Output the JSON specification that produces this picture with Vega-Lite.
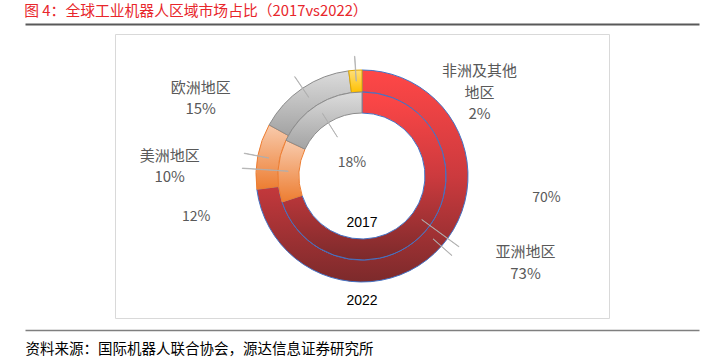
{
  "$schema": "https://vega.github.io/schema/vega-lite/v6.json",
  "width": 494,
  "height": 284,
  "autosize": "none",
  "padding": {"left": 115, "top": 34, "right": 110, "bottom": 46},
  "background": "white",
  "title": {
    "text": "图 4：全球工业机器人区域市场占比（2017vs2022）",
    "anchor": "start",
    "frame": "bounds",
    "font": "Noto Sans CJK SC",
    "fontSize": 14.8,
    "fontWeight": "normal",
    "color": "#E8262B",
    "baseline": "bottom",
    "offset": 2,
    "dx": 2,
    "dy": 12
  },
  "datasets": {
    "share": [
      {"year": "2022", "region": "亚洲地区", "pct": 73, "order": 1},
      {"year": "2022", "region": "美洲地区", "pct": 10, "order": 2},
      {"year": "2022", "region": "欧洲地区", "pct": 15, "order": 3},
      {"year": "2022", "region": "非洲及其他地区", "pct": 2, "order": 4},
      {"year": "2017", "region": "亚洲地区", "pct": 70, "order": 1},
      {"year": "2017", "region": "美洲地区", "pct": 12, "order": 2},
      {"year": "2017", "region": "欧洲地区", "pct": 18, "order": 3},
      {"year": "2017", "region": "非洲及其他地区", "pct": 0, "order": 4}
    ]
  },
  "data": {"name": "share"},
  "transform": [
    {"stack": "pct", "groupby": ["year"], "sort": [{"field": "order", "order": "ascending"}], "as": ["p0", "p1"]},
    {"calculate": "(datum.p0+datum.p1)/2", "as": "pmid"},
    {"calculate": "(datum.p0+datum.p1)/2+0.06", "as": "pmid2"},
    {"calculate": "datum.year==='2022' ? replace(datum.region,'其他','其他\\n') + '\\n' + datum.pct + '%' : datum.pct + '%'", "as": "label"}
  ],
  "layer": [
    {
      "mark": {"type": "point", "opacity": 0},
      "encoding": {
        "x": {"field": "pct", "type": "quantitative", "scale": {"domain": [0, 100], "range": [-90, 584]},
          "axis": {"orient": "top", "offset": 10, "domainColor": "#595959", "domainWidth": 2, "ticks": false, "labels": false, "grid": false, "title": null}}
      }
    },
    {
      "mark": {"type": "point", "opacity": 0},
      "encoding": {
        "x": {"field": "pct", "type": "quantitative", "scale": {"domain": [0, 100], "range": [-90, 584]},
          "title": "资料来源：国际机器人联合协会，源达信息证券研究所",
          "axis": {"orient": "bottom", "offset": 12, "domainColor": "#7F7F7F", "domainWidth": 1.5, "ticks": false, "labels": false, "grid": false,
            "titleAnchor": "start", "titleAlign": "left", "titleBaseline": "top", "titlePadding": 12,
            "titleFont": "Noto Sans CJK SC", "titleFontSize": 14.5, "titleFontWeight": "normal", "titleColor": "#000000"}}
      }
    },
    {
      "transform": [{"filter": "datum.year==='2022' && datum.pct>0"}],
      "mark": {"type": "arc", "radius": 106, "radius2": 84, "strokeWidth": 1},
      "encoding": {
        "theta": {"field": "p0", "type": "quantitative", "scale": {"domain": [0, 100]}},
        "theta2": {"field": "p1"},
        "fill": {
          "condition": [
            {"test": "datum.region==='亚洲地区'", "value": {"gradient": "linear", "x1": 0, "y1": 0, "x2": 0, "y2": 1, "stops": [{"offset": 0, "color": "#FF4747"}, {"offset": 0.5, "color": "#CC3A3E"}, {"offset": 1, "color": "#7C2A2B"}]}},
            {"test": "datum.region==='美洲地区'", "value": {"gradient": "linear", "x1": 0, "y1": 0, "x2": 0, "y2": 1, "stops": [{"offset": 0, "color": "#F8CBAD"}, {"offset": 1, "color": "#ED7D31"}]}},
            {"test": "datum.region==='欧洲地区'", "value": {"gradient": "linear", "x1": 0, "y1": 0, "x2": 0, "y2": 1, "stops": [{"offset": 0, "color": "#DCDCDC"}, {"offset": 1, "color": "#A3A3A3"}]}}
          ],
          "value": {"gradient": "linear", "x1": 0, "y1": 0, "x2": 0, "y2": 1, "stops": [{"offset": 0, "color": "#FFE07A"}, {"offset": 1, "color": "#FFC000"}]}
        },
        "stroke": {
          "condition": [
            {"test": "datum.region==='亚洲地区'", "value": "#4472C4"},
            {"test": "datum.region==='美洲地区'", "value": "#ED7D31"},
            {"test": "datum.region==='欧洲地区'", "value": "#8C8C8C"}
          ],
          "value": "#E0A800"
        }
      }
    },
    {
      "transform": [{"filter": "datum.year==='2017' && datum.pct>0"}],
      "mark": {"type": "arc", "radius": 84, "radius2": 63, "strokeWidth": 1},
      "encoding": {
        "theta": {"field": "p0", "type": "quantitative", "scale": {"domain": [0, 100]}},
        "theta2": {"field": "p1"},
        "fill": {
          "condition": [
            {"test": "datum.region==='亚洲地区'", "value": {"gradient": "linear", "x1": 0, "y1": 0, "x2": 0, "y2": 1, "stops": [{"offset": 0, "color": "#FF4747"}, {"offset": 0.5, "color": "#CC3A3E"}, {"offset": 1, "color": "#7C2A2B"}]}},
            {"test": "datum.region==='美洲地区'", "value": {"gradient": "linear", "x1": 0, "y1": 0, "x2": 0, "y2": 1, "stops": [{"offset": 0, "color": "#F8CBAD"}, {"offset": 1, "color": "#ED7D31"}]}},
            {"test": "datum.region==='欧洲地区'", "value": {"gradient": "linear", "x1": 0, "y1": 0, "x2": 0, "y2": 1, "stops": [{"offset": 0, "color": "#DCDCDC"}, {"offset": 1, "color": "#A3A3A3"}]}}
          ],
          "value": {"gradient": "linear", "x1": 0, "y1": 0, "x2": 0, "y2": 1, "stops": [{"offset": 0, "color": "#FFE07A"}, {"offset": 1, "color": "#FFC000"}]}
        },
        "stroke": {
          "condition": [
            {"test": "datum.region==='亚洲地区'", "value": "#4472C4"},
            {"test": "datum.region==='美洲地区'", "value": "#ED7D31"},
            {"test": "datum.region==='欧洲地区'", "value": "#8C8C8C"}
          ],
          "value": "#E0A800"
        }
      }
    },
    {
      "transform": [{"filter": "datum.year==='2022' && datum.pct>0"}],
      "mark": {"type": "arc", "radius": 120, "radius2": 95, "fill": "#AFAFAF", "stroke": "#AFAFAF", "strokeWidth": 0.7},
      "encoding": {
        "theta": {"field": "pmid", "type": "quantitative", "scale": {"domain": [0, 100]}},
        "theta2": {"field": "pmid2"}
      }
    },
    {
      "transform": [{"filter": "datum.year==='2017' && (datum.region==='亚洲地区' || datum.region==='美洲地区')"}],
      "mark": {"type": "arc", "radius": 120, "radius2": 74, "fill": "#AFAFAF", "stroke": "#AFAFAF", "strokeWidth": 0.7},
      "encoding": {
        "theta": {"field": "pmid", "type": "quantitative", "scale": {"domain": [0, 100]}},
        "theta2": {"field": "pmid2"}
      }
    },
    {
      "transform": [{"filter": "datum.year==='2017' && datum.region==='欧洲地区'"}],
      "mark": {"type": "arc", "radius": 74, "radius2": 46, "fill": "#AFAFAF", "stroke": "#AFAFAF", "strokeWidth": 0.7},
      "encoding": {
        "theta": {"field": "pmid", "type": "quantitative", "scale": {"domain": [0, 100]}},
        "theta2": {"field": "pmid2"}
      }
    },
    {
      "transform": [{"filter": "datum.year==='2022' && datum.region==='亚洲地区'"}],
      "mark": {"type": "text", "radius": 150, "dx": 51, "dy": -23, "lineBreak": "\n", "lineHeight": 21.5, "align": "center", "baseline": "middle", "font": "Noto Sans CJK SC", "fontSize": 15, "color": "#595959"},
      "encoding": {
        "theta": {"field": "pmid", "type": "quantitative", "scale": {"domain": [0, 100]}, "stack": null},
        "text": {"field": "label"}
      }
    },
    {
      "transform": [{"filter": "datum.year==='2022' && datum.region==='美洲地区'"}],
      "mark": {"type": "text", "radius": 150, "dx": -45, "dy": 8, "lineBreak": "\n", "lineHeight": 21.5, "align": "center", "baseline": "middle", "font": "Noto Sans CJK SC", "fontSize": 15, "color": "#595959"},
      "encoding": {
        "theta": {"field": "pmid", "type": "quantitative", "scale": {"domain": [0, 100]}, "stack": null},
        "text": {"field": "label"}
      }
    },
    {
      "transform": [{"filter": "datum.year==='2022' && datum.region==='欧洲地区'"}],
      "mark": {"type": "text", "radius": 150, "dx": -77, "dy": 36, "lineBreak": "\n", "lineHeight": 21.5, "align": "center", "baseline": "middle", "font": "Noto Sans CJK SC", "fontSize": 15, "color": "#595959"},
      "encoding": {
        "theta": {"field": "pmid", "type": "quantitative", "scale": {"domain": [0, 100]}, "stack": null},
        "text": {"field": "label"}
      }
    },
    {
      "transform": [{"filter": "datum.year==='2022' && datum.region==='非洲及其他地区'"}],
      "mark": {"type": "text", "radius": 150, "dx": 127, "dy": 45, "lineBreak": "\n", "lineHeight": 21.5, "align": "center", "baseline": "middle", "font": "Noto Sans CJK SC", "fontSize": 15, "color": "#595959"},
      "encoding": {
        "theta": {"field": "pmid", "type": "quantitative", "scale": {"domain": [0, 100]}, "stack": null},
        "text": {"field": "label"}
      }
    },
    {
      "transform": [{"filter": "datum.year==='2017' && datum.region==='亚洲地区'"}],
      "mark": {"type": "text", "radius": 150, "dx": 63, "dy": -66, "align": "center", "baseline": "middle", "font": "Noto Sans CJK SC", "fontSize": 14, "color": "#595959"},
      "encoding": {
        "theta": {"field": "pmid", "type": "quantitative", "scale": {"domain": [0, 100]}, "stack": null},
        "text": {"field": "label"}
      }
    },
    {
      "transform": [{"filter": "datum.year==='2017' && datum.region==='美洲地区'"}],
      "mark": {"type": "text", "radius": 150, "dx": -16, "dy": 50, "align": "center", "baseline": "middle", "font": "Noto Sans CJK SC", "fontSize": 14, "color": "#595959"},
      "encoding": {
        "theta": {"field": "pmid", "type": "quantitative", "scale": {"domain": [0, 100]}, "stack": null},
        "text": {"field": "label"}
      }
    },
    {
      "transform": [{"filter": "datum.year==='2017' && datum.region==='欧洲地区'"}],
      "mark": {"type": "text", "radius": 30, "dx": 6, "dy": 12, "align": "center", "baseline": "middle", "font": "Noto Sans CJK SC", "fontSize": 14, "color": "#595959"},
      "encoding": {
        "theta": {"field": "pmid", "type": "quantitative", "scale": {"domain": [0, 100]}, "stack": null},
        "text": {"field": "label"}
      }
    },
    {
      "data": {"values": [{"year": "2017"}]},
      "mark": {"type": "text", "radius": 47, "theta": 3.14159, "align": "center", "baseline": "middle", "font": "Liberation Sans, Arial, sans-serif", "fontSize": 14, "color": "#000000"},
      "encoding": {"text": {"field": "year"}}
    },
    {
      "data": {"values": [{"year": "2022"}]},
      "mark": {"type": "text", "radius": 125, "theta": 3.14159, "align": "center", "baseline": "middle", "font": "Liberation Sans, Arial, sans-serif", "fontSize": 14, "color": "#000000"},
      "encoding": {"text": {"field": "year"}}
    }
  ],
  "resolve": {"scale": {"x": "independent"}, "axis": {"x": "independent"}},
  "config": {
    "view": {"stroke": "#D9D9D9", "strokeWidth": 1},
    "font": "Noto Sans CJK SC"
  }
}
